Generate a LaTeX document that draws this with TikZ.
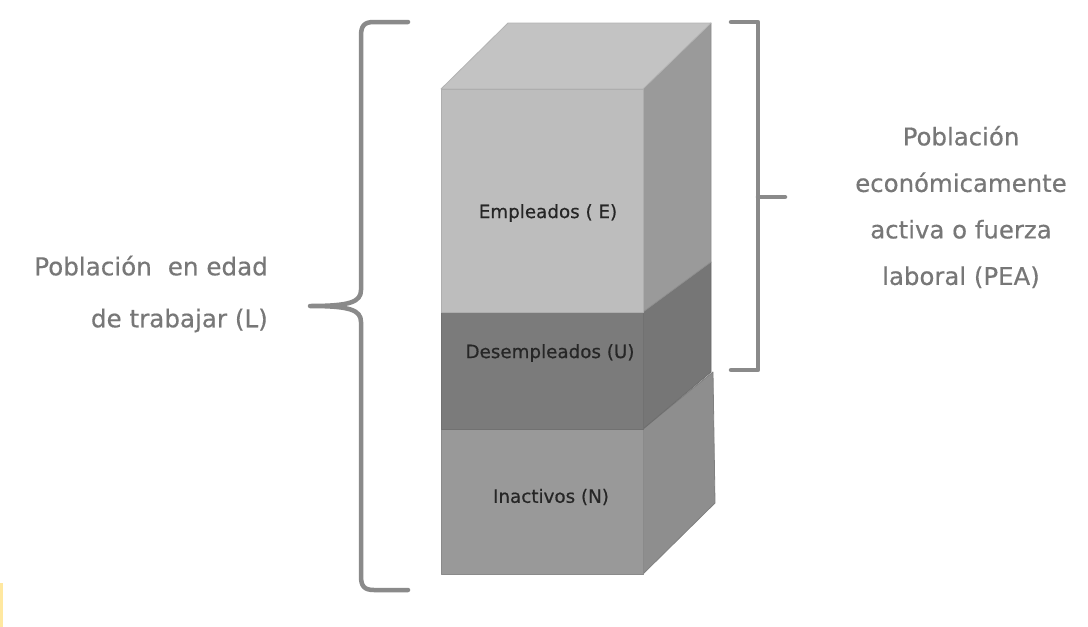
\documentclass[tikz,border=0pt]{standalone}
\usepackage{fontspec}
\setmainfont{DejaVu Sans}
\newfontfamily\medfont[FakeBold=0.6]{DejaVu Sans}
\newfontfamily\sidefont[FakeBold=0.4]{DejaVu Sans}
\definecolor{topc}{HTML}{C3C3C3}
\definecolor{efront}{HTML}{BDBDBD}
\definecolor{eside}{HTML}{9A9A9A}
\definecolor{ufront}{HTML}{7B7B7B}
\definecolor{uside}{HTML}{767676}
\definecolor{nfront}{HTML}{999999}
\definecolor{nside}{HTML}{8E8E8E}
\definecolor{brk}{HTML}{8A8A8A}
\definecolor{txtg}{HTML}{777777}
\definecolor{yel}{HTML}{FFE8A0}
\tikzset{
  face/.style={line width=0.8pt, line join=round},
  bracket/.style={draw=brk, line width=4.5pt, line cap=round, line join=round},
  boxlabel/.style={text=black!85, font=\medfont\fontsize{18.3}{20}\selectfont, inner sep=0pt},
  sidelabel/.style={text=txtg, inner sep=0pt}
}
\begin{document}
\begin{tikzpicture}[x=1pt,y=-1pt]
\useasboundingbox (0,0) rectangle (1088,627);
\fill[white] (0,0) rectangle (1088,627);
\fill[yel] (0,583) rectangle (2.5,627);
% Inactivos
\filldraw[face, fill=nside, draw=nside!90!black] (643,429) -- (713,372) -- (715,503) -- (643,574) -- cycle;
\filldraw[face, fill=nfront, draw=nfront!90!black] (441,429) rectangle (643,574);
% Desempleados
\filldraw[face, fill=uside, draw=uside!92!black] (643,312) -- (711,262) -- (711,372) -- (643,429) -- cycle;
\filldraw[face, fill=ufront, draw=ufront!92!black] (441,312) rectangle (643,429);
% Empleados
\filldraw[face, fill=eside, draw=eside!92!black] (643,89) -- (711,23) -- (711,262) -- (643,312) -- cycle;
\filldraw[face, fill=topc, draw=topc!92!black] (441,89) -- (508,23) -- (711,23) -- (643,89) -- cycle;
\filldraw[face, fill=efront, draw=efront!92!black] (441,89) rectangle (643,312);
% labels in box
\node[boxlabel] (E) at (548,213) {Empleados ( E)};
\node[boxlabel] (U) at (550,353) {Desempleados (U)};
\node[boxlabel] (N) at (551,497) {Inactivos (N)};
% left brace
\coordinate (lt) at (408,22);
\coordinate (lm) at (310,306);
\coordinate (lb) at (408,590);
\draw[bracket] (lt) -- (374,22) .. controls (364,22) and (361,26) .. (361,36)
  -- (361,290) .. controls (361,302) and (350,306) .. (lm)
  .. controls (350,306) and (361,310) .. (361,322)
  -- (361,576) .. controls (361,586) and (364,590) .. (374,590) -- (lb);
% right bracket
\coordinate (rt) at (731,22);
\coordinate (rb) at (731,370);
\coordinate (rm) at (785,197);
\draw[bracket] (rt) -- (758,22) -- (758,370) -- (rb);
\draw[bracket] (758,197) -- (rm);
% side texts
\node[sidelabel, anchor=east, align=right, font=\sidefont\fontsize{24.6}{52}\selectfont] (L) at (268,294)
  {Población\,\, en edad\\de trabajar (L)};
\node[sidelabel, align=center, font=\sidefont\fontsize{24.4}{46.5}\selectfont] (PEA) at (961,207)
  {Población\\económicamente\\activa o fuerza\\laboral (PEA)};
\end{tikzpicture}
\end{document}
